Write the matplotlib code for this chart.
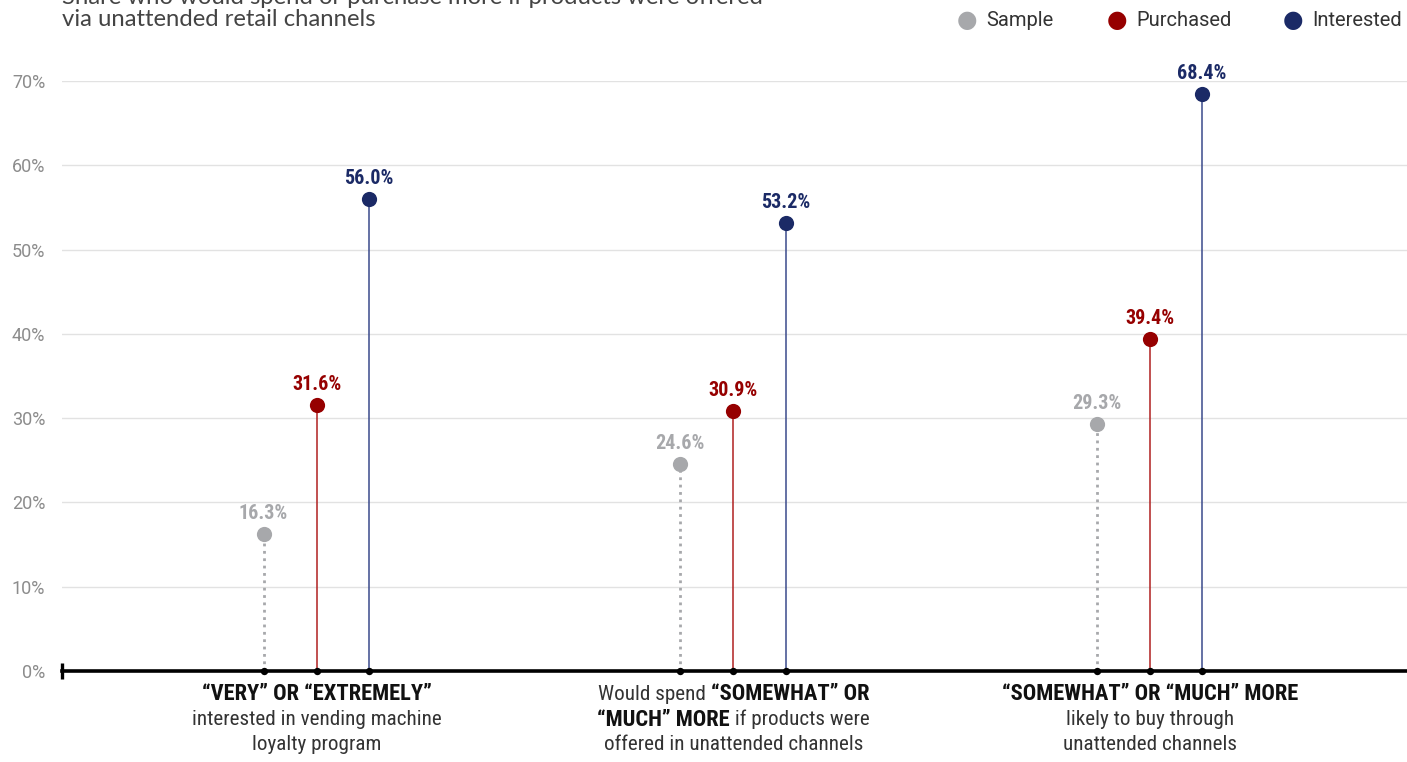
import matplotlib
matplotlib.use("Agg")
import matplotlib.pyplot as plt
import numpy as np

plt.rcParams['font.family'] = ['Roboto Condensed', 'Roboto', 'DejaVu Sans']

series = ['Sample', 'Purchased', 'Interested']
sample = [16.3, 24.6, 29.3]
purchased = [31.6, 30.9, 39.4]
interested = [56.0, 53.2, 68.4]
category_lines = [
    [[("“VERY” OR “EXTREMELY”", True)],
     [("interested in vending machine", False)],
     [("loyalty program", False)]],
    [[("Would spend ", False), ("“SOMEWHAT” OR", True)],
     [("“MUCH” MORE", True), (" if products were", False)],
     [("offered in unattended channels", False)]],
    [[("“SOMEWHAT” OR “MUCH” MORE", True)],
     [("likely to buy through", False)],
     [("unattended channels", False)]],
]
yticks = [0, 10, 20, 30, 40, 50, 60, 70]

colors = {'Sample': '#a7a8ab', 'Purchased': '#960000', 'Interested': '#1b2a66'}
offsets = {'Sample': -0.128, 'Purchased': 0.0, 'Interested': 0.125}
styles = {'Sample': ':', 'Purchased': '-', 'Interested': '-'}
stem_colors = {'Sample': '#a7a8ab', 'Purchased': '#b02020', 'Interested': '#3a4a8c'}

W, H = 1407, 762
fig = plt.figure(figsize=(W / 100, H / 100), dpi=100)
ax = fig.add_axes([62 / W, 1 - 671 / H, 1 - 62 / W, (671 - 81) / H])
ax.set_xlim(-0.612, 2.617)
ax.set_ylim(0, 70)

for sp in ax.spines.values():
    sp.set_visible(False)
ax.set_yticks(yticks)
ax.set_yticklabels([f"{t}%" for t in yticks], color='#8c8c8c', fontsize=13,
                   fontfamily='Roboto')
ax.tick_params(axis='y', length=0, pad=12)
ax.set_xticks([])
ax.grid(axis='y', color='#e2e2e2', lw=1)
ax.set_axisbelow(True)

x = np.arange(3)
data = {'Sample': sample, 'Purchased': purchased, 'Interested': interested}
for s in series:
    xs = x + offsets[s]
    vals = data[s]
    for xi, v in zip(xs, vals):
        lw = 2 if s == 'Sample' else 1.1
        ax.plot([xi, xi], [0, v], ls=styles[s], color=stem_colors[s], lw=lw, zorder=2)
        ax.annotate(f"{v:.1f}%", (xi, v), xytext=(0, 11), textcoords='offset pixels',
                    ha='center', va='bottom', color=colors[s], fontsize=14.5,
                    fontweight='bold', annotation_clip=False)
    ax.scatter(xs, vals, s=120, color=colors[s], zorder=4, clip_on=False, linewidths=0)
    ax.scatter(xs, [0] * 3, s=28, color='black', zorder=5, clip_on=False, linewidths=0)

# baseline
ax.axhline(0, color='black', lw=2.6, zorder=3, clip_on=False)
ax.plot([-0.612], [0], marker='|', color='black', markersize=12, mew=2.4, clip_on=False, zorder=3)

# category labels with mixed weights
fig.canvas.draw()
renderer = fig.canvas.get_renderer()
for ci, lines in enumerate(category_lines):
    cx_disp = ax.transData.transform((ci, 0))[0]
    for li, segs in enumerate(lines):
        y_px = 694 + li * 25.5
        texts = []
        for txt, bold in segs:
            t = fig.text(0, 1 - y_px / H, txt, fontsize=16.2 if bold else 15.2,
                         ha='left', va='center',
                         fontweight='bold' if bold else 'normal',
                         color='#111111' if bold else '#333333')
            texts.append(t)
        widths = [t.get_window_extent(renderer).width for t in texts]
        start = cx_disp - sum(widths) / 2
        for t, w in zip(texts, widths):
            t.set_x(start / W)
            start += w

# title (cut at top, as in the source)
fig.text(62 / W, 1 - (-3) / H, "Share who would spend or purchase more if products were offered",
         fontsize=17.2, color='#444444', ha='left', va='center', fontfamily='Lato')
fig.text(62 / W, 1 - 20 / H, "via unattended retail channels",
         fontsize=17.2, color='#444444', ha='left', va='center', fontfamily='Lato')

# legend
leg_x = [967, 1117, 1293]
for s, lx in zip(series, leg_x):
    fig.text(lx / W, 1 - 20 / H, "●", fontsize=17, color=colors[s], ha='center', va='center',
             fontfamily='DejaVu Sans')
    fig.text((lx + 19) / W, 1 - 20 / H, s, fontsize=14.5, color='#333333', ha='left', va='center',
             fontfamily='Roboto')

fig.savefig('out.png', dpi=100)
